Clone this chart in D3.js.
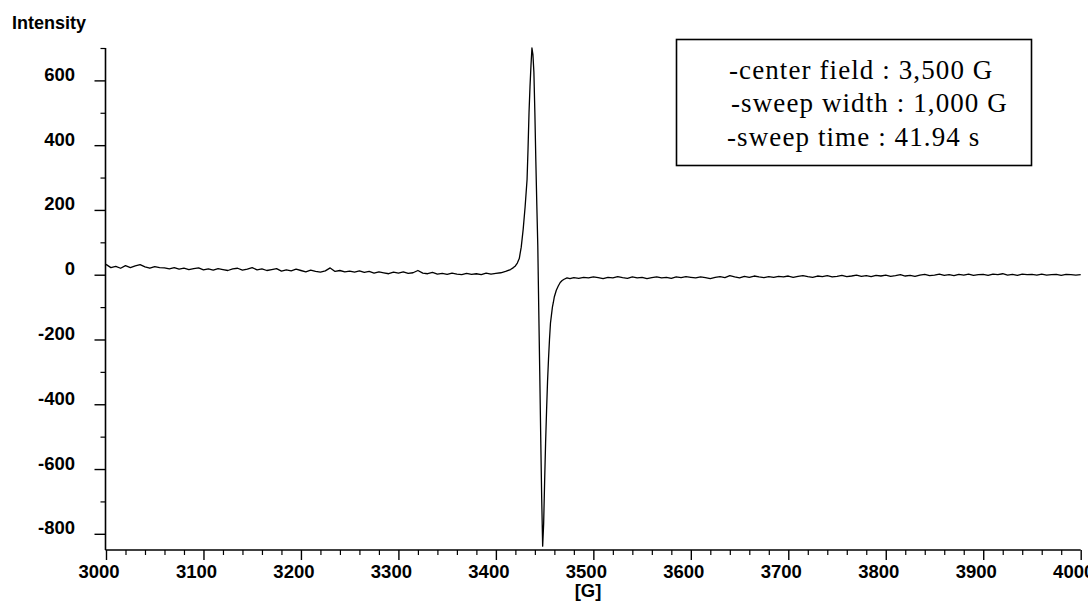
<!DOCTYPE html>
<html>
<head>
<meta charset="utf-8">
<script src="https://cdn.jsdelivr.net/npm/d3@7"></script>
<style>
  html, body { margin: 0; padding: 0; background: #fff; }
  svg { display: block; }
</style>
</head>
<body>
<svg id="chart" width="1088" height="605"></svg>
<script>
// ---------------- data ----------------
const fieldG = [
  3000,3005,3010,3015,3020,3025,3030,3035,3040,3045,3050,3055,3060,3065,3070,3075,3080,3085,3090,3095,
  3100,3105,3110,3115,3120,3125,3130,3135,3140,3145,3150,3155,3160,3165,3170,3175,3180,3185,3190,3195,
  3200,3205,3210,3215,3220,3225,3230,3235,3240,3245,3250,3255,3260,3265,3270,3275,3280,3285,3290,3295,
  3300,3305,3310,3315,3320,3325,3330,3335,3340,3345,3350,3355,3360,3365,3370,3375,3380,3385,3390,3395,
  3400,3405,3410,3415,3418,3420,3422,3424,3426,3428,3430,3432,3433,3434,3435,3436,3437,3438,3439,3440,
  3441,3442,3443,3444,3445,3446,3447,3448,3449,3450,3451,3452,3453,3454,3455,3456,3457,3458,3459,3460,
  3462,3464,3466,3468,3470,3473,3476,
  3480,3485,3490,3495,3500,3505,3510,3515,3520,3525,3530,3535,3540,3545,3550,3555,3560,3565,3570,3575,
  3580,3585,3590,3595,3600,3605,3610,3615,3620,3625,3630,3635,3640,3645,3650,3655,3660,3665,3670,3675,
  3680,3685,3690,3695,3700,3705,3710,3715,3720,3725,3730,3735,3740,3745,3750,3755,3760,3765,3770,3775,
  3780,3785,3790,3795,3800,3805,3810,3815,3820,3825,3830,3835,3840,3845,3850,3855,3860,3865,3870,3875,
  3880,3885,3890,3895,3900,3905,3910,3915,3920,3925,3930,3935,3940,3945,3950,3955,3960,3965,3970,3975,
  3980,3985,3990,3995,4000
];
const intensity = [
  32,22,26,20,28,22,27,31,24,20,25,22,21,18,22,17,20,16,19,21,
  15,18,14,19,16,13,18,20,14,17,22,15,18,13,16,19,11,15,12,17,
  13,9,14,10,8,12,21,10,13,9,11,8,12,7,10,5,9,6,3,8,
  5,9,4,6,13,5,3,7,2,4,1,5,2,0,4,1,3,0,5,2,
  4,6,10,16,22,27,36,50,85,140,210,294,390,500,580,645,700,680,625,500,
  350,215,90,-110,-300,-500,-690,-838,-770,-640,-520,-420,-330,-260,-200,-150,-125,-100,-85,-68,
  -48,-35,-24,-18,-14,-10,-12,
  -9,-11,-8,-10,-7,-9,-12,-8,-10,-6,-9,-11,-7,-10,-8,-12,-9,-7,-10,-8,
  -11,-7,-9,-6,-8,-10,-7,-9,-12,-8,-6,-9,-3,-7,-10,-5,-8,-4,-7,-9,
  -6,-8,-5,-7,-4,-8,-5,-3,-6,-8,-4,-6,-3,-7,-5,-2,-6,-4,-1,-5,
  -3,-6,-2,-4,-1,-5,-3,0,-4,-2,-5,-1,1,-3,-1,2,-2,0,-3,1,
  -1,2,-2,0,1,-2,2,0,3,-1,1,-2,2,0,1,-1,2,-1,0,1,
  -2,1,0,-1,0
];
const xMajorTicks = [3000,3100,3200,3300,3400,3500,3600,3700,3800,3900,4000];
const xTickLabels = ["3000","3100","3200","3300","3400","3500","3600","3700","3800","3900","4000"];
const xMinorTicks = [3020,3040,3060,3080,3120,3140,3160,3180,3220,3240,3260,3280,3320,3340,3360,3380,
  3420,3440,3460,3480,3520,3540,3560,3580,3620,3640,3660,3680,3720,3740,3760,3780,
  3820,3840,3860,3880,3920,3940,3960,3980];
const yMajorTicks = [600,400,200,0,-200,-400,-600,-800];
const yTickLabels = ["600","400","200","0","-200","-400","-600","-800"];
const yMinorTicks = [700,500,300,100,-100,-300,-500,-700];
const yAxisTitle = "Intensity";
const xAxisTitle = "[G]";
const legendLines = ["-center field : 3,500 G","-sweep width : 1,000 G","-sweep time : 41.94 s"];

// ---------------- chart ----------------
const svg = d3.select("#chart");
const x = d3.scaleLinear().domain([3000, 4000]).range([106, 1080.7]);
const y = d3.scaleLinear().domain([-850, 700]).range([550, 48]);
const axisX0 = 105.5, axisY0 = 550;
const tickFont = "'Liberation Sans', Arial, sans-serif";

// Y axis major
const gy = svg.append("g").attr("transform", `translate(${axisX0},0)`)
  .call(d3.axisLeft(y).tickValues(yMajorTicks).tickSize(11)
    .tickFormat((d,i) => yTickLabels[yMajorTicks.indexOf(d)]));
gy.select(".domain").attr("d", `M0,${y(700)}V${axisY0}`).attr("stroke", "#000").attr("stroke-width", 1.6);
gy.selectAll(".tick line").attr("stroke", "#000").attr("stroke-width", 1.4);
gy.selectAll(".tick text").attr("x", -30.5).attr("dy", "0")
  .attr("font-family", tickFont).attr("font-weight", "bold").attr("font-size", "18.5px").attr("fill", "#000");
// Y axis minor
const gym = svg.append("g").attr("transform", `translate(${axisX0},0)`)
  .call(d3.axisLeft(y).tickValues(yMinorTicks).tickSize(5).tickFormat(""));
gym.select(".domain").remove();
gym.selectAll(".tick line").attr("stroke", "#000").attr("stroke-width", 1.2);

// X axis major
const gx = svg.append("g").attr("transform", `translate(0,${axisY0})`)
  .call(d3.axisBottom(x).tickValues(xMajorTicks).tickSize(10)
    .tickFormat(d => xTickLabels[xMajorTicks.indexOf(d)]));
gx.select(".domain").attr("d", `M${axisX0},0H${x(4000)}`).attr("stroke", "#000").attr("stroke-width", 1.6);
gx.selectAll(".tick line").attr("stroke", "#000").attr("stroke-width", 1.4);
gx.selectAll(".tick text").attr("y", 28).attr("dy", "0").attr("dx", -7.5)
  .attr("font-family", tickFont).attr("font-weight", "bold").attr("font-size", "18.5px").attr("fill", "#000");
// X axis minor
const gxm = svg.append("g").attr("transform", `translate(0,${axisY0})`)
  .call(d3.axisBottom(x).tickValues(xMinorTicks).tickSize(5).tickFormat(""));
gxm.select(".domain").remove();
gxm.selectAll(".tick line").attr("stroke", "#000").attr("stroke-width", 1.2);

// Titles
svg.append("text").attr("x", 12).attr("y", 29).text(yAxisTitle)
  .attr("font-family", tickFont).attr("font-weight", "bold").attr("font-size", "18px").attr("fill", "#000");
svg.append("text").attr("x", 588).attr("y", 597).attr("text-anchor", "middle").text(xAxisTitle)
  .attr("font-family", tickFont).attr("font-weight", "bold").attr("font-size", "18.5px").attr("fill", "#000");

// Spectrum line
const pts = fieldG.map((f, i) => [f, intensity[i]]);
svg.append("path").datum(pts)
  .attr("fill", "none").attr("stroke", "#000").attr("stroke-width", 1.3).attr("stroke-linejoin", "round")
  .attr("d", d3.line().x(d => x(d[0])).y(d => y(d[1])));

// Legend box
svg.append("rect").attr("x", 676.5).attr("y", 39.5).attr("width", 355).attr("height", 126)
  .attr("fill", "#fff").attr("stroke", "#000").attr("stroke-width", 1.6);
const legX = [729, 731, 727], legY = [79, 112, 146];
svg.selectAll(".leg").data(legendLines).enter().append("text")
  .attr("x", (d,i) => legX[i]).attr("y", (d,i) => legY[i]).text(d => d)
  .attr("font-family", "'Liberation Serif', 'Times New Roman', serif").attr("font-size", "27px")
  .attr("letter-spacing", "1.1px").attr("fill", "#000");
</script>
</body>
</html>
